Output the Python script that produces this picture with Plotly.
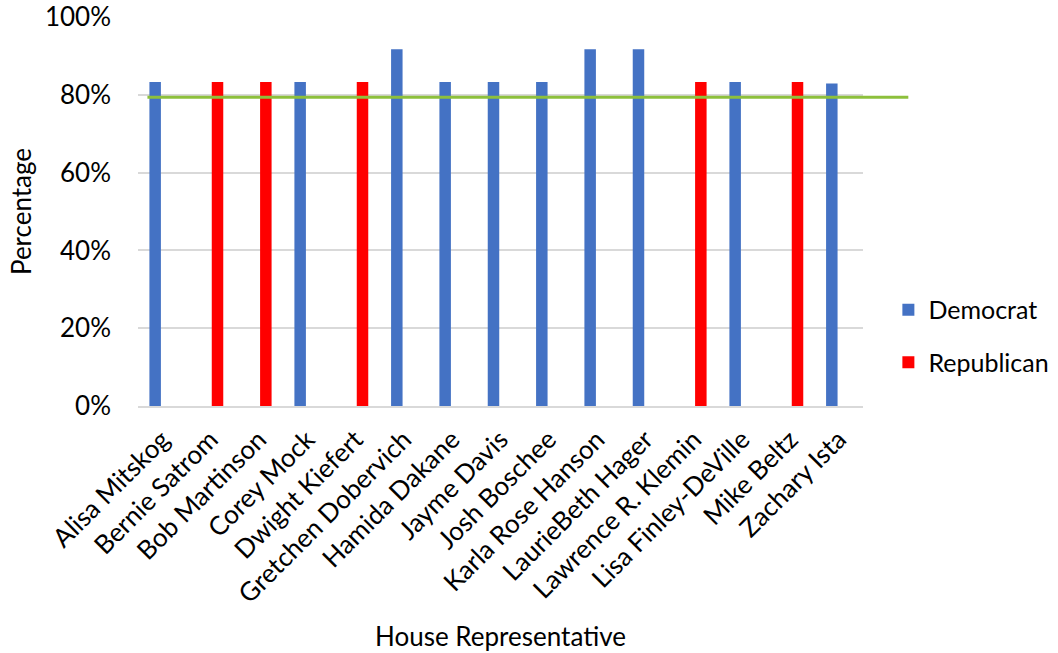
import plotly.graph_objects as go

representatives = ["Alisa Mitskog", "Bernie Satrom", "Bob Martinson", "Corey Mock",
                   "Dwight Kiefert", "Gretchen Dobervich", "Hamida Dakane", "Jayme Davis",
                   "Josh Boschee", "Karla Rose Hanson", "LaurieBeth Hager",
                   "Lawrence R. Klemin", "Lisa Finley-DeVille", "Mike Beltz", "Zachary Ista"]
democrat = [0.833, None, None, 0.833, None, 0.917, 0.833, 0.833, 0.833, 0.917, 0.917,
            None, 0.833, None, 0.829]
republican = [None, 0.833, 0.833, None, 0.833, None, None, None, None, None, None,
              0.833, None, 0.833, None]
reference_level = 0.794
y_ticks = [0, 0.2, 0.4, 0.6, 0.8, 1.0]

FONT = "Lato"
FS = 26

fig = go.Figure()
fig.add_trace(go.Bar(x=representatives, y=democrat, name="Democrat",
                     marker=dict(color="#4472C4", line=dict(width=0)),
                     legendgroup="d"))
fig.add_trace(go.Bar(x=representatives, y=republican, name="Republican",
                     marker=dict(color="#FF0000", line=dict(width=0)),
                     legendgroup="r"))

fig.add_shape(type="line", xref="paper", yref="y", x0=0.013, x1=1.0625,
              y0=reference_level, y1=reference_level,
              line=dict(color="#8DC03C", width=3), layer="above")

fig.update_layout(
    width=1058, height=653, autosize=False,
    margin=dict(l=138, r=195, t=17, b=247, autoexpand=False),
    paper_bgcolor="white", plot_bgcolor="white",
    font=dict(family=FONT, size=FS, color="#000000"),
    barmode="group", bargap=0.42, bargroupgap=0.18,
    showlegend=True,
    legend=dict(x=1.035, xanchor="left", y=0.18, yanchor="middle",
                font=dict(family=FONT, size=25), tracegroupgap=17,
                bgcolor="rgba(0,0,0,0)"),
    hovermode=False,
)
fig.update_yaxes(range=[0, 1.0], tickvals=y_ticks, tickformat=".0%",
                 showgrid=True, gridcolor="#D9D9D9", gridwidth=1.5,
                 zeroline=False, showline=False, ticks="", automargin=False,
                 ticklabelstandoff=26,
                 title=dict(text="Percentage", font=dict(family=FONT, size=FS), standoff=5))
fig.update_xaxes(tickangle=-45, showgrid=False, showline=True, linecolor="#D9D9D9",
                 linewidth=2, ticks="", ticklabelstandoff=6, automargin=False,
                 title=dict(text="House Representative", font=dict(family=FONT, size=FS), standoff=20))

fig.write_html("out.html", config={"displayModeBar": False},
               post_script="document.body.style.margin='0px';")
